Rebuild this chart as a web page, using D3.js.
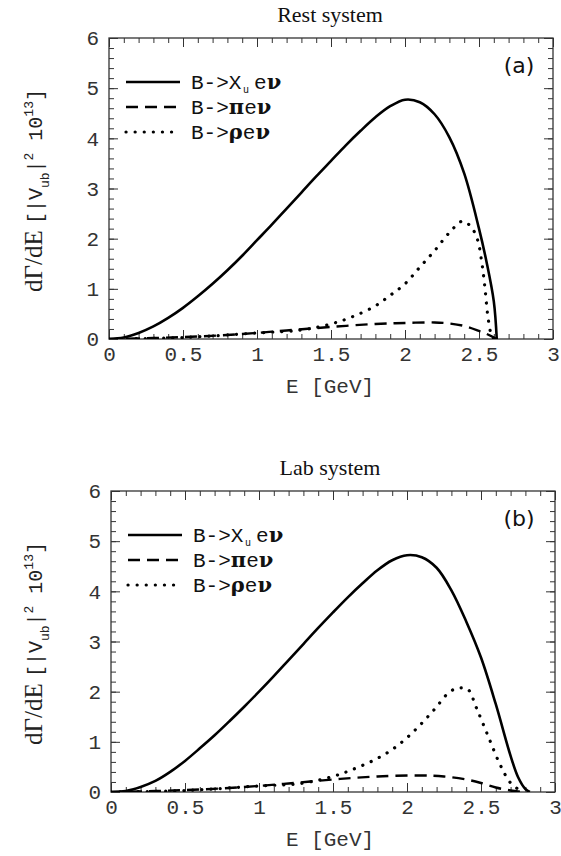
<!DOCTYPE html>
<html>
<head>
<meta charset="utf-8">
<script src="https://cdn.jsdelivr.net/npm/d3@7"></script>
<style>
  body { margin: 0; background: #fff; }
  .tick text { font-family: "Liberation Mono", monospace; font-size: 21px; fill: #333; }
  .tick line { stroke: #333; stroke-width: 1; }
</style>
</head>
<body>
<script>
// x tick labels and y tick labels
var xTicks = [0, 0.5, 1, 1.5, 2, 2.5, 3];
var yTicks = [0, 1, 2, 3, 4, 5, 6];

// Rest system (a)
var restXuE   = [0, 0.1, 0.2, 0.3, 0.4, 0.5, 0.6, 0.7, 0.8, 0.9, 1.0, 1.1, 1.2, 1.3, 1.4, 1.5, 1.6, 1.7, 1.8, 1.9, 2.0, 2.1, 2.2, 2.3, 2.4, 2.5, 2.55, 2.6, 2.62];
var restXuVal = [0, 0.03, 0.12, 0.25, 0.42, 0.62, 0.85, 1.1, 1.37, 1.66, 1.97, 2.28, 2.6, 2.92, 3.24, 3.55, 3.86, 4.15, 4.42, 4.64, 4.77, 4.72, 4.48, 4.02, 3.3, 2.2, 1.55, 0.75, 0];
var restPiE   = [0, 0.3, 0.6, 0.9, 1.2, 1.5, 1.8, 2.0, 2.2, 2.3, 2.4, 2.5, 2.56, 2.62];
var restPiVal = [0, 0.02, 0.05, 0.1, 0.17, 0.24, 0.3, 0.32, 0.33, 0.31, 0.26, 0.16, 0.09, 0];
var restRhoE   = [0, 0.5, 1.0, 1.3, 1.5, 1.65, 1.8, 1.9, 2.0, 2.1, 2.2, 2.3, 2.39, 2.45, 2.49, 2.52, 2.54, 2.56, 2.58, 2.6];
var restRhoVal = [0, 0.03, 0.12, 0.18, 0.3, 0.45, 0.66, 0.87, 1.1, 1.43, 1.76, 2.12, 2.35, 2.22, 1.98, 1.5, 1.02, 0.45, 0.12, 0];

// Lab system (b)
var labXuE   = [0, 0.1, 0.2, 0.3, 0.4, 0.5, 0.6, 0.7, 0.8, 0.9, 1.0, 1.1, 1.2, 1.3, 1.4, 1.5, 1.6, 1.7, 1.8, 1.9, 2.0, 2.1, 2.2, 2.3, 2.4, 2.5, 2.6, 2.7, 2.75, 2.8, 2.83];
var labXuVal = [0, 0.02, 0.1, 0.22, 0.4, 0.62, 0.87, 1.13, 1.41, 1.7, 2.0, 2.31, 2.63, 2.95, 3.27, 3.58, 3.88, 4.16, 4.42, 4.62, 4.72, 4.68, 4.47, 4.02, 3.4, 2.68, 1.75, 0.72, 0.3, 0.06, 0];
var labPiE   = [0, 0.3, 0.6, 0.9, 1.2, 1.5, 1.8, 2.1, 2.25, 2.4, 2.5, 2.6, 2.7, 2.78];
var labPiVal = [0, 0.02, 0.05, 0.1, 0.17, 0.25, 0.31, 0.33, 0.31, 0.25, 0.18, 0.09, 0.03, 0];
var labRhoE   = [0, 0.5, 1.0, 1.28, 1.5, 1.65, 1.8, 1.93, 2.06, 2.18, 2.29, 2.35, 2.41, 2.47, 2.55, 2.63, 2.7, 2.78];
var labRhoVal = [0, 0.03, 0.12, 0.17, 0.31, 0.47, 0.67, 0.91, 1.25, 1.63, 2.0, 2.07, 2.05, 1.67, 1.1, 0.54, 0.18, 0];

var svg = d3.select("body").append("svg").attr("width", 561).attr("height", 856);
svg.append("rect").attr("width", 561).attr("height", 856).attr("fill", "#fff");

var mono = "'Liberation Mono', monospace";
var serif = "'Liberation Serif', serif";

function zip(es, vs) { return es.map(function(e, i){ return {e: e, v: vs[i]}; }); }

function drawPanel(p, idx) {
    var x = d3.scaleLinear().domain([0, 3]).range([p.left, p.right]);
    var y = d3.scaleLinear().domain([0, 6]).range([p.bottom, p.top]);
    var g = svg.append("g");

    // clip curves to the frame
    g.append("clipPath").attr("id", "clip" + idx).append("rect")
        .attr("x", p.left).attr("y", p.top)
        .attr("width", p.right - p.left).attr("height", p.bottom - p.top);

    // title
    g.append("text").attr("x", 330).attr("y", p.top - 16)
        .attr("text-anchor", "middle").attr("font-family", serif).attr("font-size", 22)
        .attr("fill", "#111").text(p.title);

    var minorX = d3.range(0, 3.001, 0.1);
    var minorY = d3.range(0, 6.001, 0.2);

    // minor ticks on all four sides
    g.append("g").attr("transform", "translate(0," + p.bottom + ")")
        .call(d3.axisBottom(x).tickValues(minorX).tickSize(-5).tickFormat(""));
    g.append("g").attr("transform", "translate(0," + p.top + ")")
        .call(d3.axisTop(x).tickValues(minorX).tickSize(-5).tickFormat(""));
    g.append("g").attr("transform", "translate(" + p.left + ",0)")
        .call(d3.axisLeft(y).tickValues(minorY).tickSize(-5).tickFormat(""));
    g.append("g").attr("transform", "translate(" + p.right + ",0)")
        .call(d3.axisRight(y).tickValues(minorY).tickSize(-5).tickFormat(""));

    // major ticks
    g.append("g").attr("transform", "translate(0," + p.bottom + ")")
        .call(d3.axisBottom(x).tickValues(xTicks).tickSize(-9).tickPadding(7).tickFormat(d3.format("~g")));
    g.append("g").attr("transform", "translate(0," + p.top + ")")
        .call(d3.axisTop(x).tickValues(xTicks).tickSize(-9).tickFormat(""));
    g.append("g").attr("transform", "translate(" + p.left + ",0)")
        .call(d3.axisLeft(y).tickValues(yTicks).tickSize(-9).tickPadding(10).tickFormat(d3.format("d")));
    g.append("g").attr("transform", "translate(" + p.right + ",0)")
        .call(d3.axisRight(y).tickValues(yTicks).tickSize(-9).tickFormat(""));

    g.selectAll(".domain").remove();

    g.append("rect").attr("x", p.left).attr("y", p.top)
        .attr("width", p.right - p.left).attr("height", p.bottom - p.top)
        .attr("fill", "none").attr("stroke", "#333").attr("stroke-width", 1.3);

    // x axis title
    g.append("text").attr("x", 330).attr("y", p.bottom + 54)
        .attr("text-anchor", "middle").attr("font-family", mono).attr("font-size", 21)
        .attr("fill", "#333").text("E [GeV]");

    // y axis title
    var yt = g.append("text")
        .attr("transform", "translate(42," + ((p.top + p.bottom) / 2 + 2) + ") rotate(-90)")
        .attr("text-anchor", "middle").attr("font-family", mono).attr("font-size", 20).attr("fill", "#222");
    yt.append("tspan").attr("font-family", serif).attr("font-size", 25).text("d\u0393/dE ");
    yt.append("tspan").text("[|V");
    yt.append("tspan").attr("font-size", 13).attr("dy", 7).text("ub");
    yt.append("tspan").attr("dy", -7).text("|");
    yt.append("tspan").attr("font-size", 13).attr("dy", -9).text("2");
    yt.append("tspan").attr("dy", 9).text(" 10");
    yt.append("tspan").attr("font-size", 13).attr("dy", -9).text("13");
    yt.append("tspan").attr("dy", 9).text("]");

    // panel tag
    g.append("text").attr("x", 519).attr("y", p.top + 35)
        .attr("text-anchor", "middle").attr("font-family", "'DejaVu Sans', sans-serif").attr("font-size", 22)
        .attr("fill", "#111").text(p.tag);

    var line = d3.line()
        .x(function(d){ return x(d.e); })
        .y(function(d){ return y(d.v); })
        .curve(d3.curveCatmullRom.alpha(0.5));

    var styles = [
        {dash: null, width: 2.6, cap: "butt"},
        {dash: "12,7", width: 2.4, cap: "butt"},
        {dash: "0.1,9", width: 3.2, cap: "round"}
    ];

    p.series.forEach(function(s, i){
        g.append("path").attr("d", line(zip(s.e, s.v)))
            .attr("clip-path", "url(#clip" + idx + ")")
            .attr("fill", "none").attr("stroke", "#000")
            .attr("stroke-width", styles[i].width)
            .attr("stroke-linecap", styles[i].cap)
            .attr("stroke-dasharray", styles[i].dash);
    });

    // legend
    var legY = [p.top + 44, p.top + 69, p.top + 94];
    var bold = "'DejaVu Serif', serif";
    var textX = p.left + 82;
    styles.forEach(function(st, i){
        g.append("line").attr("x1", p.left + 17).attr("x2", p.left + 71)
            .attr("y1", legY[i]).attr("y2", legY[i])
            .attr("stroke", "#000").attr("stroke-width", st.width)
            .attr("stroke-linecap", st.cap).attr("stroke-dasharray", st.dash);
        var t = g.append("text").attr("x", textX).attr("y", legY[i] + 7)
            .attr("font-family", mono).attr("font-size", 21).attr("fill", "#111");
        if (i === 0) {
            t.append("tspan").text("B->X ");
            // subscript u under the X
            g.append("text").attr("x", textX + 52).attr("y", legY[i] + 11)
                .attr("font-family", mono).attr("font-size", 10).attr("fill", "#111").text("u");
            t.append("tspan").text("e");
        } else {
            t.append("tspan").text("B->");
            t.append("tspan").attr("font-family", bold).attr("font-weight", "bold").text(i === 1 ? "\u03c0" : "\u03c1");
            t.append("tspan").text("e");
        }
        t.append("tspan").attr("font-family", bold).attr("font-weight", "bold").text("\u03bd");
    });
}

drawPanel({
    title: "Rest system", tag: "(a)",
    left: 109, right: 553, top: 38, bottom: 339,
    series: [
        {e: restXuE, v: restXuVal},
        {e: restPiE, v: restPiVal},
        {e: restRhoE, v: restRhoVal}
    ]
}, 0);

drawPanel({
    title: "Lab system", tag: "(b)",
    left: 111, right: 555, top: 491, bottom: 792,
    series: [
        {e: labXuE, v: labXuVal},
        {e: labPiE, v: labPiVal},
        {e: labRhoE, v: labRhoVal}
    ]
}, 1);
</script>
</body>
</html>
